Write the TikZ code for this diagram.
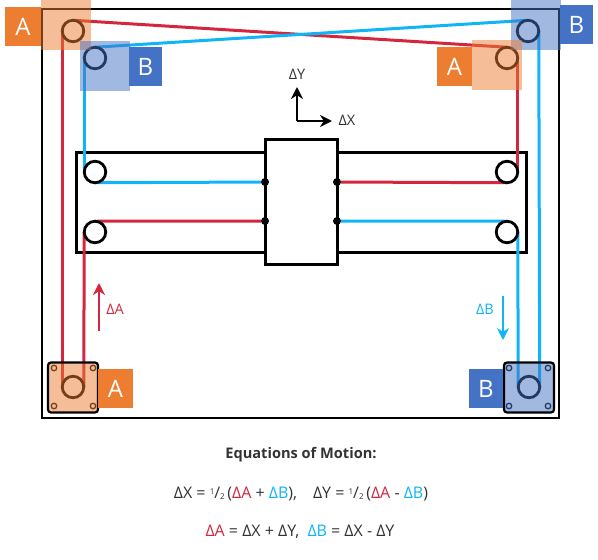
\documentclass[tikz,border=0pt]{standalone}
\usepackage{fontspec}
\setmainfont{Open Sans}
\usetikzlibrary{arrows.meta}
\pgfdeclarelayer{toplayer}
\pgfsetlayers{main,toplayer}
\definecolor{beltA}{HTML}{D2273F}
\definecolor{beltB}{HTML}{0FB5F7}
\definecolor{tagA}{HTML}{ED7D31}
\definecolor{tagB}{HTML}{4472C4}
\definecolor{inkgrey}{HTML}{333333}
\newcommand{\dA}{\textcolor{beltA}{ΔA}}
\newcommand{\dB}{\textcolor{beltB}{ΔB}}
\newcommand{\half}{\raisebox{3.5pt}{\footnotesize 1}/\raisebox{-1pt}{\footnotesize 2}}
\begin{document}
\begin{tikzpicture}[x=1pt,y=-1pt,
    pulley/.style={circle,draw=black,fill=white,line width=2.8pt,minimum size=21.5pt,inner sep=0pt,outer sep=0pt},
    idler/.style={circle,draw=black,line width=2.8pt,minimum size=21.5pt,inner sep=0pt,outer sep=0pt},
    belta/.style={draw=beltA,line width=3pt},
    beltb/.style={draw=beltB,line width=3pt},
    tag/.style={minimum width=35pt,minimum height=39pt,inner sep=0pt,text=white,font=\fontsize{24}{24}\selectfont},
    shade/.style={minimum size=50pt,inner sep=0pt,opacity=0.5},
    joint/.style={circle,fill=black,minimum size=8pt,inner sep=0pt},
    mount/.style={rounded corners=3pt,draw=black,line width=2.2pt,minimum size=50pt,inner sep=0pt,fill opacity=0.5},
    hole/.style={circle,line width=1.3pt,minimum size=5.5pt,inner sep=0pt},
    eqn/.style={text=inkgrey,font=\fontsize{16}{18}\selectfont},
    small/.style={font=\fontsize{14.5}{16}\selectfont},
    axis/.style={-{Stealth[length=12pt,width=12pt]},line width=2.2pt}]
  \useasboundingbox (0,0) rectangle (598,560);
  \draw[line width=2.4pt] (42,9) rectangle (559,418);
  % rail and carriage
  \draw[line width=3pt] (76,152) rectangle (526,252);
  \node[draw,fill=white,line width=3pt,minimum width=72pt,minimum height=125pt,inner sep=0pt] (carriage) at (301,201.5) {};
  \begin{pgfonlayer}{toplayer}
    \node[joint] (jointBl) at (265,182) {};
    \node[joint] (jointAl) at (265,221) {};
    \node[joint] (jointAr) at (337,182) {};
    \node[joint] (jointBr) at (337,221) {};
    % pulleys
    \node[idler] (cornerAl) at (73,31) {};
    \node[idler] (cornerBl) at (95,58) {};
    \node[idler] (cornerBr) at (528,31) {};
    \node[idler] (cornerAr) at (507,58) {};
    \node[pulley] (railBl) at (95,172) {};
    \node[pulley] (railAl) at (95,232) {};
    \node[pulley] (railAr) at (507,172) {};
    \node[pulley] (railBr) at (507,232) {};
    \node[idler] (motorA) at (73,387) {};
    \node[idler] (motorB) at (529,387) {};
    % motors
    \node[mount,fill=tagA] (mountA) at (73,387.5) {};
    \node[mount,fill=tagB] (mountB) at (529,387.5) {};
    \foreach \p in {54,93}
      \foreach \q in {368,406}
        \node[hole,draw=black!50!tagA] at (\p,\q) {};
    \foreach \p in {509,548}
      \foreach \q in {368,406}
        \node[hole,draw=black!50!tagB] at (\p,\q) {};
    % shaded squares
    \node[shade,fill=tagA] (shadeAl) at (66,25) {};
    \node[shade,fill=tagB] (shadeBl) at (105,66) {};
    \node[shade,fill=tagB] (shadeBr) at (536,25) {};
    \node[shade,fill=tagA] (shadeAr) at (497,65) {};
    % tags
    \node[tag,fill=tagA,minimum width=36pt] (tagAl) at (23,26.5) {A};
    \node[tag,fill=tagB,minimum width=33pt] (tagBl) at (145.5,66.5) {B};
    \node[tag,fill=tagB,minimum width=33pt] (tagBr) at (576.5,24.5) {B};
    \node[tag,fill=tagA] (tagAr) at (454.5,66.5) {A};
    \node[tag,fill=tagA] (tagAm) at (115.5,388.5) {A};
    \node[tag,fill=tagB,minimum width=34pt] (tagBm) at (486,388.5) {B};
  \end{pgfonlayer}
  % belts
  \draw[belta] (motorA.west) -- (cornerAl.west);
  \draw[belta] (cornerAl.north) -- (cornerAr.north);
  \draw[belta] (cornerAr.east) -- (railAr.east);
  \draw[belta] (railAr.south) -- (jointAr);
  \draw[belta] (railAl.north) -- (jointAl);
  \draw[belta] (railAl.west) -- (motorA.east);
  \draw[beltb] (motorB.east) -- (cornerBr.east);
  \draw[beltb] (cornerBr.north) -- (cornerBl.north);
  \draw[beltb] (cornerBl.west) -- (railBl.west);
  \draw[beltb] (railBl.south) -- (jointBl);
  \draw[beltb] (railBr.north) -- (jointBr);
  \draw[beltb] (railBr.east) -- (motorB.west);
  % axes
  \coordinate (origin) at (297,121);
  \node[small,text=inkgrey] (labelY) at (297,74) {ΔY};
  \node[small,text=inkgrey] (labelX) at (347,120.5) {ΔX};
  \coordinate (tipY) at (297,87);
  \coordinate (tipX) at (332,121);
  \draw[axis] (origin) -- (tipY);
  \draw[axis] (origin) -- (tipX);
  % belt motion
  \coordinate (startA) at (99,331);
  \coordinate (endA) at (99,283);
  \coordinate (startB) at (503,296);
  \coordinate (endB) at (503,340);
  \draw[axis,draw=beltA,fill=beltA] (startA) -- (endA);
  \draw[axis,draw=beltB,fill=beltB] (startB) -- (endB);
  \node[small] (labelA) at (115,309) {\dA};
  \node[small] (labelB) at (485,309) {\dB};
  % equations
  \node[eqn,font=\fontsize{14.6}{16}\bfseries] (title) at (301,454.5) {Equations of Motion:};
  \node[eqn] (eqnX) at (301,494) {ΔX = \half\,(\dA{} + \dB),\quad ΔY = \half\,(\dA{} - \dB)};
  \node[eqn] (eqnA) at (300,532) {\dA{} = ΔX + ΔY,\ \ \dB{} = ΔX - ΔY};
\end{tikzpicture}
\end{document}
